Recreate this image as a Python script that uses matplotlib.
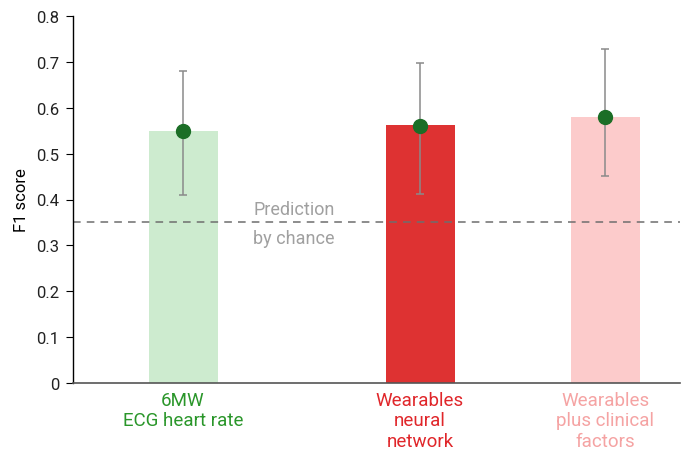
import matplotlib
matplotlib.use("Agg")
import matplotlib.pyplot as plt

plt.rcParams['font.family'] = ['Roboto', 'DejaVu Sans']

categories = ["6MW\nECG heart rate", "Wearables\nneural\nnetwork", "Wearables\nplus clinical\nfactors"]
f1_scores = [0.55, 0.562, 0.58]
point_values = [0.55, 0.56, 0.58]
ci_lower = [0.41, 0.412, 0.452]
ci_upper = [0.68, 0.698, 0.728]
chance_level = 0.352
yticks = [0, 0.1, 0.2, 0.3, 0.4, 0.5, 0.6, 0.7, 0.8]
ytick_labels = ["0", "0.1", "0.2", "0.3", "0.4", "0.5", "0.6", "0.7", "0.8"]

# layout
xpos = [110, 347, 532]
bar_width = 69
bar_colors = ["#cdebcf", "#de3232", "#fccbcb"]
label_colors = ["#2a962a", "#e0262a", "#f5a3a3"]

fig = plt.figure(figsize=(6.84, 4.52), dpi=100)
ax = fig.add_axes([73/684, 1 - 384/452, 607/684, 367/452])

ax.bar(xpos, f1_scores, width=bar_width, color=bar_colors, zorder=1)
yerr = [[p - l for p, l in zip(point_values, ci_lower)],
        [u - p for p, u in zip(point_values, ci_upper)]]
ax.errorbar(xpos, point_values, yerr=yerr, fmt='none', ecolor='#8a8a8a',
            elinewidth=1.1, capsize=3, capthick=1.1, zorder=2)
ax.plot(xpos, point_values, 'o', color='#1b6e26', markersize=10, zorder=3)

ax.axhline(chance_level, color='#6e6e6e', linestyle=(0, (5, 4)), linewidth=1.1, zorder=2)
ax.text(221, chance_level - 0.004, "Prediction\nby chance", ha='center', va='center',
        color='#a0a0a0', fontsize=13, linespacing=1.75, zorder=4)

ax.set_xlim(0, 607)
ax.set_ylim(0, 0.8)
ax.set_yticks(yticks)
ax.set_yticklabels(ytick_labels, fontsize=12)
ax.set_ylabel("F1 score", fontsize=12, labelpad=5)
ax.set_xticks(xpos)
ax.set_xticklabels(categories, fontsize=13.5, linespacing=1.15)
for lbl, c in zip(ax.get_xticklabels(), label_colors):
    lbl.set_color(c)
ax.tick_params(axis='x', length=0, pad=6)
ax.tick_params(axis='y', length=5, width=0.8, pad=5, labelcolor='#222222')

ax.spines['top'].set_visible(False)
ax.spines['right'].set_visible(False)
ax.spines['left'].set_color('black')
ax.spines['left'].set_linewidth(1.0)
ax.spines['bottom'].set_color('#555555')
ax.spines['bottom'].set_linewidth(1.2)

fig.savefig("out.png", dpi=100)
